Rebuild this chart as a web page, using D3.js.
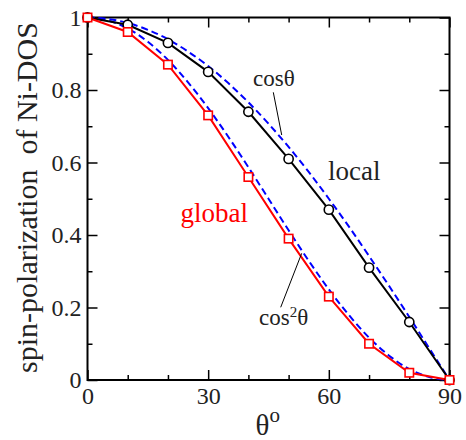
<!DOCTYPE html>
<html>
<head>
<meta charset="utf-8">
<script src="https://cdn.jsdelivr.net/npm/d3@7"></script>
<style>
  html, body { margin: 0; padding: 0; background: #fff; }
  svg { display: block; }
  svg text { font-family: "Liberation Serif", "Times New Roman", Times, "DejaVu Serif", "Noto Serif", serif !important; }
</style>
</head>
<body>
<svg id="chart" width="466" height="440"></svg>
<script>
// ---- data ----
const angles = [0, 10, 20, 30, 40, 50, 60, 70, 80, 90];
const localPol = [1, 0.98, 0.93, 0.85, 0.74, 0.61, 0.47, 0.31, 0.16, 0];
const globalPol = [1, 0.96, 0.87, 0.73, 0.56, 0.39, 0.23, 0.10, 0.02, 0];
const refAngles = [0, 5, 10, 15, 20, 25, 30, 35, 40, 45, 50, 55, 60, 65, 70, 75, 80, 85, 90];
const cosRef = [1, 0.996, 0.985, 0.966, 0.940, 0.906, 0.866, 0.819, 0.766, 0.707, 0.643, 0.574, 0.5, 0.423, 0.342, 0.259, 0.174, 0.087, 0];
const cos2Ref = [1, 0.992, 0.970, 0.933, 0.883, 0.821, 0.75, 0.671, 0.587, 0.5, 0.413, 0.329, 0.25, 0.179, 0.117, 0.067, 0.030, 0.008, 0];
const xMajor = [0, 30, 60, 90];
const xMinor = [10, 20, 40, 50, 70, 80];
const yMajor = [0, 0.2, 0.4, 0.6, 0.8, 1];
const yMinor = [0.1, 0.3, 0.5, 0.7, 0.9];
const xTickLabels = ["0", "30", "60", "90"];
const yTickLabels = ["0", "0.2", "0.4", "0.6", "0.8", "1"];

// ---- layout ----
const L = 87.5, R = 449.5, T = 17.5, B = 380;
const serif = '"Liberation Serif", "Times New Roman", Times, "DejaVu Serif", serif';
const svg = d3.select("#chart").attr("font-family", serif);
const x = d3.scaleLinear().domain([0, 90]).range([L, R]);
const y = d3.scaleLinear().domain([0, 1]).range([B, T]);
const textCol = "#222";

function styleAxis(g) {
  g.attr("font-family", serif).attr("font-size", 24);
  g.select(".domain").remove();
  g.selectAll(".tick line").attr("stroke", "#000").attr("stroke-width", 1.5);
  g.selectAll(".tick text").attr("fill", textCol).attr("font-size", 24);
}

// bottom
svg.append("g").attr("transform", `translate(0,${B})`)
  .call(d3.axisBottom(x).tickValues(xMajor).tickSize(-10).tickPadding(7)
    .tickFormat((d, i) => xTickLabels[i]))
  .call(styleAxis);
svg.append("g").attr("transform", `translate(0,${B})`)
  .call(d3.axisBottom(x).tickValues(xMinor).tickSize(-5).tickFormat(""))
  .call(styleAxis);
// top
svg.append("g").attr("transform", `translate(0,${T})`)
  .call(d3.axisTop(x).tickValues(xMajor).tickSize(-10).tickFormat(""))
  .call(styleAxis);
svg.append("g").attr("transform", `translate(0,${T})`)
  .call(d3.axisTop(x).tickValues(xMinor).tickSize(-5).tickFormat(""))
  .call(styleAxis);
// left
svg.append("g").attr("transform", `translate(${L},0)`)
  .call(d3.axisLeft(y).tickValues(yMajor).tickSize(-10).tickPadding(6)
    .tickFormat((d, i) => yTickLabels[i]))
  .call(styleAxis);
svg.append("g").attr("transform", `translate(${L},0)`)
  .call(d3.axisLeft(y).tickValues(yMinor).tickSize(-5).tickFormat(""))
  .call(styleAxis);
// right
svg.append("g").attr("transform", `translate(${R},0)`)
  .call(d3.axisRight(y).tickValues(yMajor).tickSize(-10).tickFormat(""))
  .call(styleAxis);
svg.append("g").attr("transform", `translate(${R},0)`)
  .call(d3.axisRight(y).tickValues(yMinor).tickSize(-5).tickFormat(""))
  .call(styleAxis);

// frame
svg.append("rect").attr("x", L).attr("y", T).attr("width", R - L).attr("height", B - T)
  .attr("fill", "none").attr("stroke", "#000").attr("stroke-width", 2);

// ---- lines ----
const lineGen = d3.line().x(d => x(d[0])).y(d => y(d[1]));
const curveGen = d3.line().x(d => x(d[0])).y(d => y(d[1])).curve(d3.curveMonotoneX);

svg.append("path").datum(refAngles.map((a, i) => [a, cosRef[i]]))
  .attr("d", curveGen).attr("fill", "none").attr("stroke", "#0000ff")
  .attr("stroke-width", 2).attr("stroke-dasharray", "7,4");
svg.append("path").datum(refAngles.map((a, i) => [a, cos2Ref[i]]))
  .attr("d", curveGen).attr("fill", "none").attr("stroke", "#0000ff")
  .attr("stroke-width", 2).attr("stroke-dasharray", "7,4");

svg.append("path").datum(angles.map((a, i) => [a, localPol[i]]))
  .attr("d", lineGen).attr("fill", "none").attr("stroke", "#000").attr("stroke-width", 2);
svg.append("path").datum(angles.map((a, i) => [a, globalPol[i]]))
  .attr("d", lineGen).attr("fill", "none").attr("stroke", "#ff0000").attr("stroke-width", 2);

// markers
svg.append("g").selectAll("circle").data(angles.map((a, i) => [a, localPol[i]])).join("circle")
  .attr("cx", d => x(d[0])).attr("cy", d => y(d[1])).attr("r", 4.6)
  .attr("fill", "#fff").attr("stroke", "#000").attr("stroke-width", 1.6);
const sq = 8.4;
svg.append("g").selectAll("rect").data(angles.map((a, i) => [a, globalPol[i]])).join("rect")
  .attr("x", d => x(d[0]) - sq / 2).attr("y", d => y(d[1]) - sq / 2)
  .attr("width", sq).attr("height", sq)
  .attr("fill", "#fff").attr("stroke", "#ff0000").attr("stroke-width", 1.6);

// ---- annotations ----
svg.append("text").attr("x", 253).attr("y", 86).attr("fill", textCol)
  .attr("font-size", 23).text("cosθ");
svg.append("line").attr("x1", 273.3).attr("y1", 92.3).attr("x2", 281.7).attr("y2", 135)
  .attr("stroke", "#000").attr("stroke-width", 1);

svg.append("text").attr("x", 328).attr("y", 180).attr("fill", textCol)
  .attr("font-size", 27).text("local");
svg.append("text").attr("x", 180.5).attr("y", 222).attr("fill", "#ff0000")
  .attr("font-size", 27).text("global");

const c2 = svg.append("text").attr("x", 259).attr("y", 325).attr("fill", textCol)
  .attr("font-size", 23);
c2.append("tspan").text("cos");
c2.append("tspan").attr("dy", -8.5).attr("font-size", 15).text("2");
c2.append("tspan").attr("dy", 8.5).text("θ");
svg.append("line").attr("x1", 280.7).attr("y1", 307.3).attr("x2", 301.7).attr("y2", 253.3)
  .attr("stroke", "#000").attr("stroke-width", 1);

// axis titles
const xt = svg.append("text").attr("x", 255.5).attr("y", 435).attr("fill", textCol)
  .attr("font-size", 29);
xt.append("tspan").text("θ");
xt.append("tspan").attr("dy", -13).attr("font-size", 21).text("o");

svg.append("text")
  .attr("transform", "translate(37,197.5) rotate(-90)")
  .attr("text-anchor", "middle").attr("fill", textCol)
  .attr("font-size", 30).style("white-space", "pre")
  .text("spin-polarization  of Ni-DOS");
</script>
</body>
</html>
